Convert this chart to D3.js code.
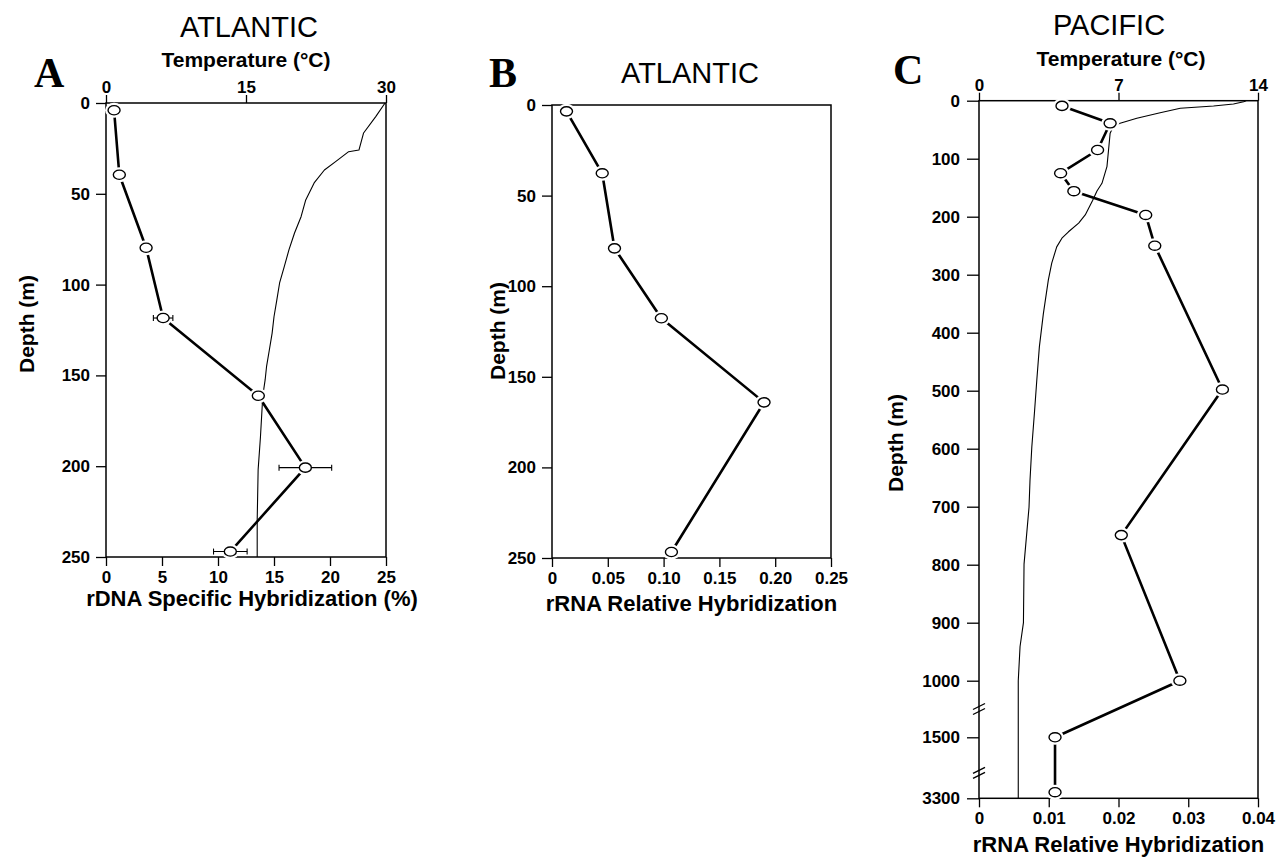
<!DOCTYPE html>
<html>
<head>
<meta charset="utf-8">
<script src="https://cdn.jsdelivr.net/npm/d3@7"></script>
<style>
  html, body { margin: 0; padding: 0; background: #fff; }
  svg { display: block; }
  text { font-family: "Liberation Sans", Arial, Helvetica, sans-serif; fill: #000; }
</style>
</head>
<body>
<svg id="chart" width="1278" height="858"></svg>
<script>
// ---------------- DATA ----------------
// Panel A (Atlantic): rDNA specific hybridization (%) vs depth (m)
const depthA = [4, 39.5, 79.7, 118.4, 161.2, 200.8, 247];
const hybA   = [0.72, 1.19, 3.58, 5.1, 13.6, 17.8, 11.1];
const errA   = [0, 0, 0, 0.87, 0, 2.35, 1.5];
// Panel A temperature profile
const tDepthA = [0, 7.5, 16.5, 25.9, 26.8, 32.3, 36.9, 44, 53.4, 62.6, 71.6, 80.9, 90.1, 99.1, 108.5, 117.7, 126.7, 136, 145.2, 152.5, 161.2, 183.8, 202, 229.6, 250];
const tempA   = [29.9, 28.9, 27.6, 27.1, 26.0, 24.6, 23.4, 22.3, 21.4, 20.9, 20.2, 19.6, 19.1, 18.6, 18.3, 18.0, 17.8, 17.5, 17.2, 17.05, 16.8, 16.55, 16.3, 16.2, 16.2];

// Panel B (Atlantic): rRNA relative hybridization vs depth (m)
const depthB = [3.5, 37.7, 79.1, 117.7, 164.1, 246.7];
const hybB   = [0.013, 0.045, 0.056, 0.098, 0.19, 0.107];

// Panel C (Pacific): rRNA relative hybridization vs depth (m)
const depthC = [9, 39, 85, 125, 156, 197, 250, 498, 749, 1000, 1500, 3120];
const hybC   = [0.0119, 0.0188, 0.017, 0.0117, 0.0136, 0.0239, 0.0252, 0.0349, 0.0204, 0.0288, 0.0109, 0.0109];
// Panel C temperature profile
const tDepthC = [0, 1.7, 5.7, 9.1, 13.1, 20.7, 30.3, 39, 43.6, 56.2, 85, 113.8, 142.4, 155.7, 172, 197, 211, 226, 237, 252, 280, 309, 367, 424, 482, 539, 597, 654, 701, 799, 900, 941, 1000, 1500, 3300];
const tempC   = [13.4, 13.28, 12.77, 11.77, 10.1, 9.09, 7.92, 7.08, 6.75, 6.58, 6.5, 6.42, 6.17, 5.92, 5.7, 5.33, 5.0, 4.49, 4.16, 3.9, 3.65, 3.48, 3.23, 3.03, 2.9, 2.78, 2.65, 2.56, 2.51, 2.26, 2.23, 2.06, 1.97, 1.97, 1.97];

// Tick values
const ticksA_x = [0, 5, 10, 15, 20, 25];
const ticksA_t = [0, 15, 30];
const ticksA_y = [0, 50, 100, 150, 200, 250];
const ticksB_x = [0, 0.05, 0.10, 0.15, 0.20, 0.25];
const ticksB_y = [0, 50, 100, 150, 200, 250];
const ticksC_x = [0, 0.01, 0.02, 0.03, 0.04];
const ticksC_t = [0, 7, 14];
const ticksC_y = [0, 100, 200, 300, 400, 500, 600, 700, 800, 900, 1000, 1500, 3300];
const breaksC  = [1250, 2550];

// Text
const titles = ["ATLANTIC", "ATLANTIC", "PACIFIC"];
const letters = ["A", "B", "C"];
const tempLabel = "Temperature (\u00B0C)";
const depthLabel = "Depth (m)";
const xLabels = ["rDNA Specific Hybridization (%)", "rRNA Relative Hybridization", "rRNA Relative Hybridization"];

// ---------------- DRAW ----------------
const svg = d3.select("#chart");

function fmt2(d) { return d === 0 ? "0" : d3.format(".2f")(d); }

function panel(o) {
  const g = svg.append("g");
  const [x0, x1] = o.x.range();
  const yr = o.y.range();
  const y0 = yr[0], y1 = yr[yr.length - 1];

  // Axes
  const ax = g.append("g").attr("transform", `translate(0,${y1})`)
    .call(d3.axisBottom(o.x).tickValues(o.xTicks).tickFormat(o.xFmt).tickSize(9).tickPadding(5).tickSizeOuter(0));
  const ay = g.append("g").attr("transform", `translate(${x0},0)`)
    .call(d3.axisLeft(o.y).tickValues(o.yTicks).tickFormat(d3.format("d")).tickSize(o.yTick || 10).tickPadding(o.yPad || 6).tickSizeOuter(0));
  let at = null;
  if (o.t) {
    at = g.append("g").attr("transform", `translate(0,${y0})`)
      .call(d3.axisTop(o.t).tickValues(o.tTicks).tickFormat(d3.format("d")).tickSize(8).tickPadding(2).tickSizeOuter(0));
  }
  [ax, ay, at].forEach(a => {
    if (!a) return;
    a.select(".domain").remove();
    a.selectAll("line").attr("stroke", "#000").attr("stroke-width", 1.3);
    a.selectAll("text").style("font-size", "17px").style("font-weight", "bold")
      .style("font-family", "'Liberation Sans', Arial, sans-serif").attr("fill", "#000");
  });

  // Frame
  g.append("rect").attr("x", x0).attr("y", y0).attr("width", x1 - x0).attr("height", y1 - y0)
    .attr("fill", "none").attr("stroke", "#000").attr("stroke-width", 1.5);

  // Temperature curve
  if (o.tDepth) {
    const pts = o.tDepth.map((d, i) => [o.t(o.temp[i]), o.y(d)]);
    g.append("path").attr("d", d3.line()(pts)).attr("fill", "none")
      .attr("stroke", "#000").attr("stroke-width", 1.1).attr("stroke-linejoin", "round");
  }

  // Data line
  const dpts = o.depth.map((d, i) => [o.x(o.val[i]), o.y(d)]);
  g.append("path").attr("d", d3.line()(dpts)).attr("fill", "none")
    .attr("stroke", "#000").attr("stroke-width", 2.6).attr("stroke-linejoin", "round");

  // White halos to create gaps at markers
  g.selectAll(".halo").data(dpts).join("ellipse")
    .attr("cx", d => d[0]).attr("cy", d => d[1]).attr("rx", 9).attr("ry", 7.5).attr("fill", "#fff");

  // Error bars
  if (o.err) {
    o.err.forEach((e, i) => {
      if (!e) return;
      const cy = o.y(o.depth[i]);
      const xl = o.x(o.val[i] - e), xr = o.x(o.val[i] + e);
      g.append("line").attr("x1", xl).attr("x2", xr).attr("y1", cy).attr("y2", cy)
        .attr("stroke", "#000").attr("stroke-width", 1.1);
      [xl, xr].forEach(xx => g.append("line").attr("x1", xx).attr("x2", xx)
        .attr("y1", cy - 3).attr("y2", cy + 3).attr("stroke", "#000").attr("stroke-width", 1.1));
    });
  }

  // Markers
  g.selectAll(".mk").data(dpts).join("ellipse")
    .attr("cx", d => d[0]).attr("cy", d => d[1]).attr("rx", 6).attr("ry", 4.6)
    .attr("fill", "#fff").attr("stroke", "#000").attr("stroke-width", 1.4);

  // Axis breaks
  if (o.breaks) {
    o.breaks.forEach(b => {
      const by = o.y(b);
      [-2.5, 2.5].forEach(off => g.append("line")
        .attr("x1", x0 - 6).attr("y1", by + off + 3).attr("x2", x0 + 6).attr("y2", by + off - 3)
        .attr("stroke", "#000").attr("stroke-width", 1.3));
    });
  }

  // Texts
  const cx = (x0 + x1) / 2;
  g.append("text").attr("x", o.titleX).attr("y", o.titleY).attr("text-anchor", "middle")
    .style("font-size", "29px").text(o.title);
  if (o.t) {
    g.append("text").attr("x", o.tempX).attr("y", o.tempY).attr("text-anchor", "middle")
      .style("font-size", "21px").style("font-weight", "bold").text(tempLabel);
  }
  g.append("text").attr("x", o.letterX).attr("y", o.letterY)
    .style("font-family", "'Liberation Serif', 'Times New Roman', serif")
    .style("font-size", "42px").style("font-weight", "bold").text(o.letter);
  g.append("text").attr("transform", `translate(${o.depthX},${o.depthY}) rotate(-90)`)
    .attr("text-anchor", "middle").style("font-size", "21px").style("font-weight", "bold").text(depthLabel);
  g.append("text").attr("x", cx + (o.xLabDx || 0)).attr("y", o.xLabY).attr("text-anchor", "middle")
    .style("font-size", "22px").style("font-weight", "bold").text(o.xLabel);
}

// Panel A
panel({
  x: d3.scaleLinear().domain([0, 25]).range([106, 386]),
  t: d3.scaleLinear().domain([0, 30]).range([106, 386]),
  y: d3.scaleLinear().domain([0, 250]).range([103, 557]),
  xTicks: ticksA_x, tTicks: ticksA_t, yTicks: ticksA_y, xFmt: d3.format("d"),
  depth: depthA, val: hybA, err: errA, tDepth: tDepthA, temp: tempA,
  title: titles[0], titleX: 249, titleY: 37, tempX: 246, tempY: 67,
  letter: letters[0], letterX: 34, letterY: 87,
  depthX: 34, depthY: 324, xLabel: xLabels[0], xLabY: 606, xLabDx: 6
});

// Panel B
panel({
  x: d3.scaleLinear().domain([0, 0.25]).range([552, 831]),
  y: d3.scaleLinear().domain([0, 250]).range([105, 558]),
  xTicks: ticksB_x, yTicks: ticksB_y, xFmt: fmt2,
  depth: depthB, val: hybB,
  title: titles[1], titleX: 690, titleY: 83,
  letter: letters[1], letterX: 489, letterY: 87,
  depthX: 505, depthY: 331, xLabel: xLabels[1], xLabY: 611
});

// Panel C (broken depth axis)
panel({
  x: d3.scaleLinear().domain([0, 0.04]).range([979, 1258]),
  t: d3.scaleLinear().domain([0, 14]).range([979, 1258]),
  y: d3.scaleLinear().domain([0, 1000, 1500, 3300]).range([100.7, 680.7, 737.3, 798.3]),
  xTicks: ticksC_x, tTicks: ticksC_t, yTicks: ticksC_y, xFmt: fmt2, yTick: 12, yPad: 7,
  depth: depthC, val: hybC, tDepth: tDepthC, temp: tempC, breaks: breaksC,
  title: titles[2], titleX: 1109, titleY: 35, tempX: 1121, tempY: 66,
  letter: letters[2], letterX: 893, letterY: 84,
  depthX: 903, depthY: 443, xLabel: xLabels[2], xLabY: 852
});
</script>
</body>
</html>
